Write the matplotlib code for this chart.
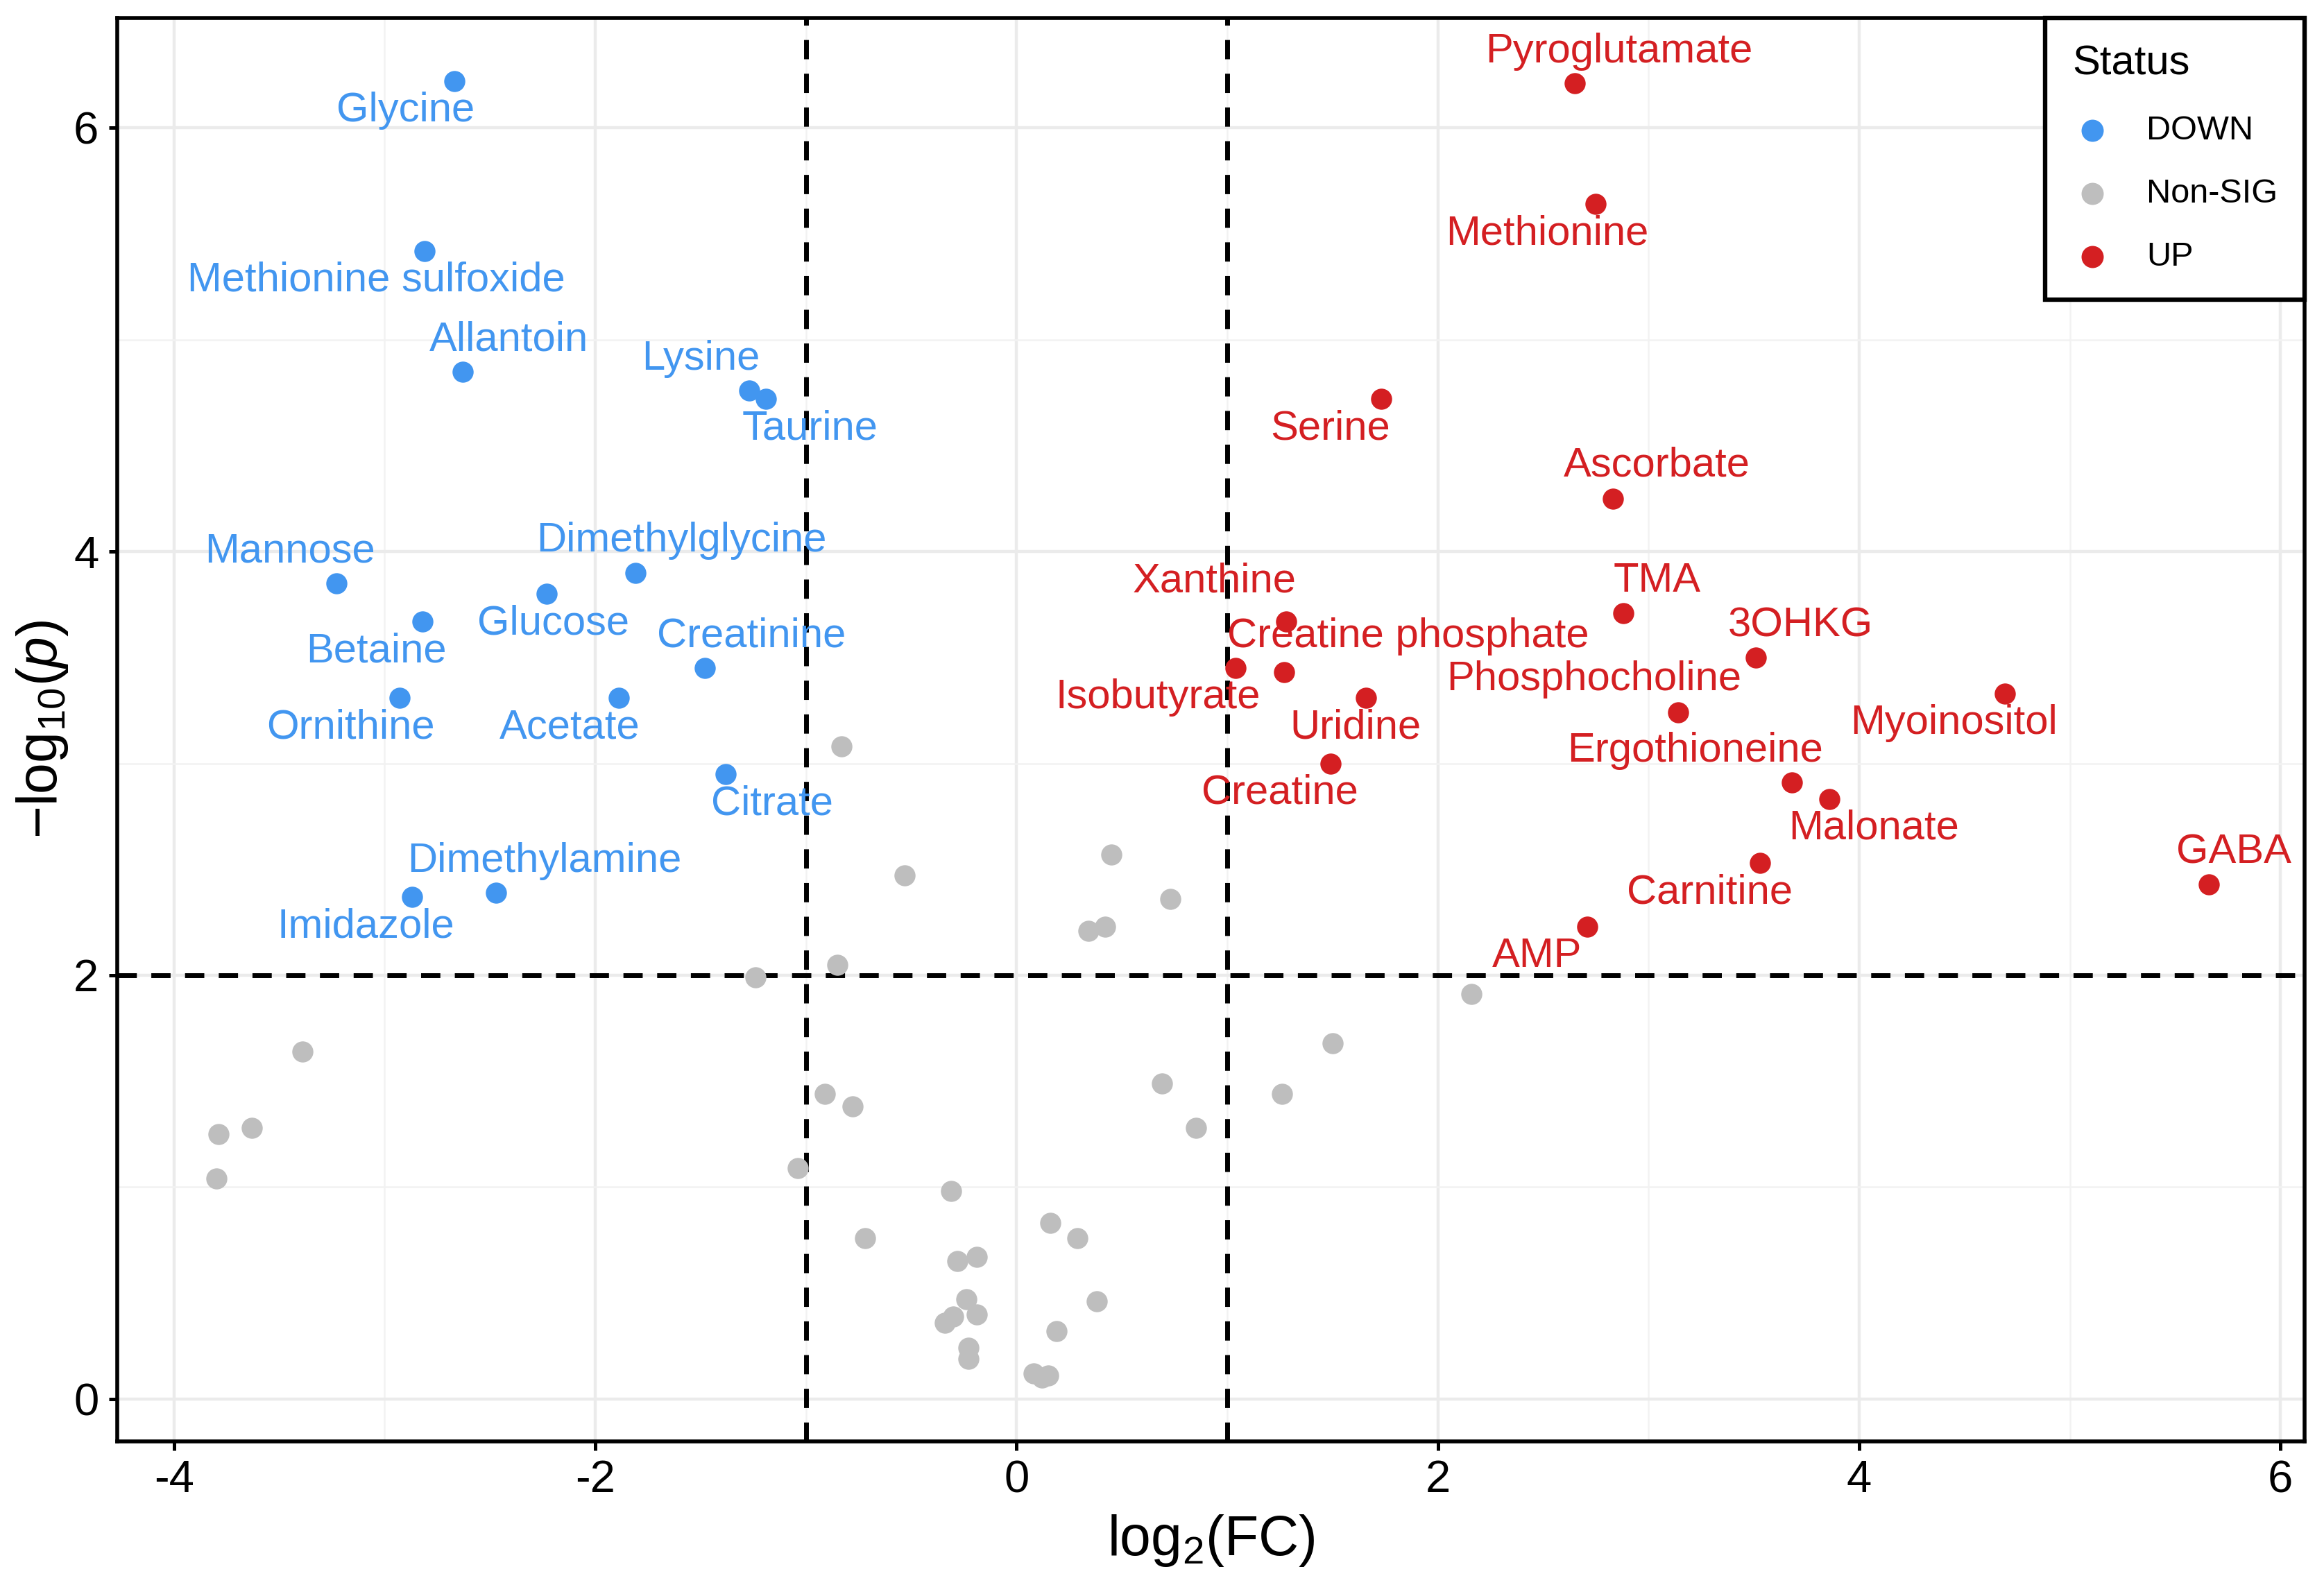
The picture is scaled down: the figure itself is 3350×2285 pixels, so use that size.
import numpy as np
import matplotlib
matplotlib.use("Agg")
import matplotlib.pyplot as plt

plt.rcParams['font.family'] = ['Liberation Sans', 'DejaVu Sans']
plt.rcParams['mathtext.fontset'] = 'custom'
plt.rcParams['mathtext.rm'] = 'Liberation Sans'
plt.rcParams['mathtext.it'] = 'Liberation Sans:italic'
plt.rcParams['axes.unicode_minus'] = False

# --- data (log2 fold change, -log10 p) ---
down_names = ["Glycine", "Methionine sulfoxide", "Allantoin", "Lysine", "Taurine",
              "Mannose", "Dimethylglycine", "Glucose", "Betaine", "Creatinine",
              "Ornithine", "Acetate", "Citrate", "Dimethylamine", "Imidazole"]
down_x = [-2.67, -2.81, -2.63, -1.27, -1.19, -3.23, -1.81, -2.23, -2.82, -1.48,
          -2.93, -1.89, -1.38, -2.47, -2.87]
down_y = [6.22, 5.42, 4.85, 4.76, 4.72, 3.85, 3.90, 3.80, 3.67, 3.45,
          3.31, 3.31, 2.95, 2.39, 2.37]

up_names = ["Pyroglutamate", "Methionine", "Serine", "Ascorbate", "TMA",
            "Xanthine", "3OHKG", "Isobutyrate", "Creatine phosphate", "Uridine",
            "Phosphocholine", "Myoinositol", "Creatine", "Ergothioneine", "Malonate",
            "Carnitine", "GABA", "AMP"]
up_x = [2.65, 2.75, 1.73, 2.83, 2.88, 1.28, 3.51, 1.04, 1.27, 1.66,
        3.14, 4.69, 1.49, 3.68, 3.86, 3.53, 5.66, 2.71]
up_y = [6.21, 5.64, 4.72, 4.25, 3.71, 3.67, 3.50, 3.45, 3.43, 3.31,
        3.24, 3.33, 3.00, 2.91, 2.83, 2.53, 2.43, 2.23]

ns_x = [-0.83, -1.24, -0.85, -0.53, 0.45, 0.73, 0.34, 0.42, -3.39, -3.63,
        -3.79, -3.80, -1.04, -0.91, -0.78, -0.72, -0.31, 0.69, 0.16, 0.29,
        -0.28, -0.19, -0.24, -0.19, -0.34, -0.30, 0.38, 0.19, -0.23, -0.23,
        0.08, 0.12, 0.15, 2.16, 1.50, 1.26, 0.85]
ns_y = [3.08, 1.99, 2.05, 2.47, 2.57, 2.36, 2.21, 2.23, 1.64, 1.28,
        1.25, 1.04, 1.09, 1.44, 1.38, 0.76, 0.98, 1.49, 0.83, 0.76,
        0.65, 0.67, 0.47, 0.40, 0.36, 0.39, 0.46, 0.32, 0.24, 0.19,
        0.12, 0.10, 0.11, 1.91, 1.68, 1.44, 1.28]

FC_CUT = 1
P_CUT = 2

col_down = "#4296F0"
col_ns = "#BEBEBE"
col_up = "#D41F22"

# label offsets from their point (data units), like ggrepel placed them
label_offset = {
    "Glycine": (-0.23, -0.14), "Methionine sulfoxide": (-0.23, -0.14),
    "Allantoin": (0.22, 0.15), "Lysine": (-0.23, 0.15), "Taurine": (0.21, -0.14),
    "Mannose": (-0.22, 0.15), "Dimethylglycine": (0.22, 0.15), "Glucose": (0.03, -0.14),
    "Betaine": (-0.22, -0.14), "Creatinine": (0.22, 0.15), "Ornithine": (-0.23, -0.14),
    "Acetate": (-0.23, -0.14), "Citrate": (0.22, -0.14), "Dimethylamine": (0.23, 0.15),
    "Imidazole": (-0.22, -0.14),
    "Pyroglutamate": (0.21, 0.15), "Methionine": (-0.23, -0.14), "Serine": (-0.24, -0.14),
    "Ascorbate": (0.21, 0.155), "TMA": (0.16, 0.15), "Xanthine": (-0.34, 0.19),
    "3OHKG": (0.21, 0.15), "Isobutyrate": (-0.37, -0.14), "Creatine phosphate": (0.59, 0.17),
    "Uridine": (-0.05, -0.14), "Phosphocholine": (-0.40, 0.155), "Myoinositol": (-0.24, -0.14),
    "Creatine": (-0.24, -0.14), "Ergothioneine": (-0.46, 0.15), "Malonate": (0.21, -0.135),
    "Carnitine": (-0.24, -0.14), "GABA": (0.12, 0.15), "AMP": (-0.24, -0.14),
}

fig = plt.figure(figsize=(16.75, 11.425), dpi=200)
ax = fig.add_axes([0.0504, 0.0907, 0.9413, 0.8981])

ax.set_xlim(-4.27, 6.115)
ax.set_ylim(-0.2, 6.52)

ax.set_xticks([-4, -2, 0, 2, 4, 6])
ax.set_yticks([0, 2, 4, 6])
ax.set_xticks([-3, -1, 1, 3, 5], minor=True)
ax.set_yticks([1, 3, 5], minor=True)
ax.grid(which='major', color='#EBEBEB', lw=1.6, zorder=0)
ax.grid(which='minor', color='#F2F2F2', lw=0.9, zorder=0)
ax.set_axisbelow(True)
ax.tick_params(which='minor', length=0)
ax.tick_params(which='major', direction='out', length=4.5, width=1.8,
               labelsize=23.5, pad=5, color='black')

for sp in ax.spines.values():
    sp.set_linewidth(2.0)
    sp.set_color('black')

# threshold lines
dash_kw = dict(color='black', lw=2.5, dashes=(4.0, 3.0), zorder=2)
ax.axvline(-FC_CUT, **dash_kw)
ax.axvline(FC_CUT, **dash_kw)
ax.axhline(P_CUT, **dash_kw)

ax.scatter(down_x, down_y, s=120, color=col_down, lw=0, label="DOWN", zorder=3)
ax.scatter(ns_x, ns_y, s=120, color=col_ns, lw=0, label="Non-SIG", zorder=3)
ax.scatter(up_x, up_y, s=120, color=col_up, lw=0, label="UP", zorder=3)

for names, xs, ys, c in [(down_names, down_x, down_y, col_down),
                         (up_names, up_x, up_y, col_up)]:
    for n, x, y in zip(names, xs, ys):
        dx, dy = label_offset[n]
        ax.text(x + dx, y + dy, n, color=c, fontsize=21.5, ha='center', va='center', zorder=4)

ax.set_xlabel("log$_2$(FC)", fontsize=29, labelpad=6)
ax.set_ylabel("\u2212log$_{10}$($\\mathit{p}$)", fontsize=29, labelpad=2)

leg = ax.legend(title="Status", loc='upper right', bbox_to_anchor=(1.0, 1.0),
                borderaxespad=0, frameon=True, fancybox=False, fontsize=17.5,
                title_fontsize=21.5, markerscale=1.05, handletextpad=1.0,
                labelspacing=0.95, borderpad=0.8, handlelength=1.2,
                alignment='left')
leg.get_frame().set_edgecolor('black')
leg.get_frame().set_linewidth(2.3)
leg.get_frame().set_alpha(1)

fig.savefig("out.png", dpi=200)
